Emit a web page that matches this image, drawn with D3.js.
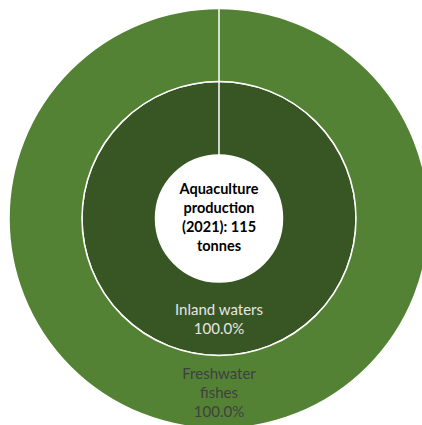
<!DOCTYPE html>
<html>
<head>
<meta charset="utf-8">
<script src="https://cdn.jsdelivr.net/npm/d3@7"></script>
<style>
  html, body { margin: 0; padding: 0; background: #ffffff; }
  svg { display: block; }
  text { font-family: Lato, "Open Sans", sans-serif; }
</style>
</head>
<body>
<svg id="chart" width="422" height="425"></svg>
<script>
// Production by environment (inner ring) and species group (outer ring), tonnes
const innerLabels = ["Inland waters"];
const innerValues = [115];
const outerLabels = ["Freshwater fishes"];
const outerValues = [115];
const centerTitle = ["Aquaculture", "production", "(2021): 115", "tonnes"];

const innerColors = ["#375623"];
const outerColors = ["#548235"];

const svg = d3.select("#chart");
const cx = 219, cy = 218.5;
const g = svg.append("g").attr("transform", `translate(${cx},${cy})`);

const holeR = 63.5, innerR = 137, outerR = 210;

const pie = d3.pie().sort(null).value(d => d.value);
const total = d3.sum(innerValues);

function ring(labels, values, colors, r0, r1) {
  const data = labels.map((l, i) => ({ label: l, value: values[i], color: colors[i] }));
  const arcs = pie(data);
  const arc = d3.arc().innerRadius(r0).outerRadius(r1);
  const layer = g.append("g");
  layer.selectAll("path").data(arcs).join("path")
    .attr("d", arc)
    .attr("fill", d => d.data.color)
    .attr("stroke", "#ffffff")
    .attr("stroke-width", 1.5);
  // radial edge at the start of every segment (also for a full circle)
  layer.selectAll("line").data(arcs).join("line")
    .attr("x1", d => r0 * Math.sin(d.startAngle))
    .attr("y1", d => -r0 * Math.cos(d.startAngle))
    .attr("x2", d => r1 * Math.sin(d.startAngle))
    .attr("y2", d => -r1 * Math.cos(d.startAngle))
    .attr("stroke", "#ffffff")
    .attr("stroke-width", 1.5);
  return arcs;
}

const innerArcs = ring(innerLabels, innerValues, innerColors, holeR, innerR);
const outerArcs = ring(outerLabels, outerValues, outerColors, innerR, outerR);

// Segment labels: name lines followed by the share of the total
const fmt = d3.format(".1%");
function labelBlock(lines, y0, color) {
  const t = g.append("text")
    .attr("text-anchor", "middle")
    .attr("font-size", 15)
    .attr("fill", color);
  lines.forEach((s, i) => {
    t.append("tspan").attr("x", 0).attr("y", y0 + i * 19).text(s);
  });
}

innerArcs.forEach(a => {
  labelBlock([a.data.label, fmt(a.data.value / total)], 96, "#e6e6e6");
});
outerArcs.forEach(a => {
  labelBlock(["Freshwater", "fishes", fmt(a.data.value / total)], 160, "#404040");
});

// Centre caption
const ct = g.append("text")
  .attr("text-anchor", "middle")
  .attr("font-size", 14.5)
  .attr("font-weight", "bold")
  .attr("fill", "#000000");
centerTitle.forEach((s, i) => {
  ct.append("tspan").attr("x", 0).attr("y", -25 + i * 19).text(s);
});
</script>
</body>
</html>
